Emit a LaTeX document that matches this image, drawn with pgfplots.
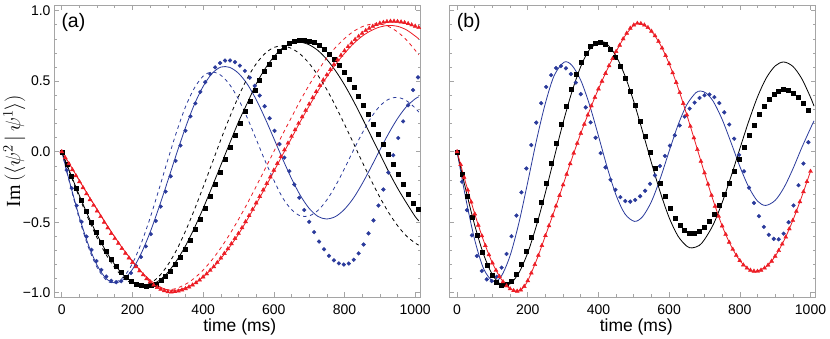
\documentclass[border=0pt]{standalone}
\usepackage{pgfplots}
\pgfplotsset{compat=1.18}
\usepackage{fontspec}
\setmainfont{Liberation Sans}
\newfontfamily\serif{Liberation Serif}

\definecolor{mblue}{RGB}{42,58,155}
\definecolor{mred}{RGB}{236,28,36}
\definecolor{framegray}{RGB}{165,165,165}

\pgfplotsset{
  panel/.style={
    scale only axis, width=366.5pt, height=292pt,
    xmin=-22, xmax=1015, ymin=-1.03, ymax=1.04,
    xtick={0,200,400,600,800,1000}, xticklabels={0,200,400,600,800,1000},
    minor x tick num=3,
    ytick={-1,-0.5,0,0.5,1}, minor y tick num=4,
    tick align=inside,
    major tick length=5pt, minor tick length=2.8pt,
    axis line style={framegray, line width=0.9pt},
    every tick/.append style={framegray, line width=0.6pt},
    tick label style={font=\fontsize{14}{16}\selectfont},
    xticklabel style={yshift=-4pt},
    xlabel={time (ms)},
    xlabel style={font=\fontsize{17.5}{20}\selectfont},
  },
  dots/.style={only marks, mark=*, mblue, mark size=1.9pt},
  sqs/.style={only marks, mark=square*, black, mark size=2pt},
  tris/.style={only marks, mark=triangle*, mred, mark size=2.3pt},
  ln/.style={line width=0.8pt, smooth, no markers},
  dsh/.style={line width=0.8pt, smooth, no markers, dash pattern=on 3.5pt off 3.5pt},
}

\begin{document}
\begin{tikzpicture}
\useasboundingbox (0,0) rectangle (830pt,339pt);

% ---------- panel (a)
\begin{axis}[panel, at={(54pt,42pt)}, anchor=south west,
  yticklabels={−1.0,−0.5,0.0,0.5,1.0},
  xlabel style={at={(axis description cs:0.507,-0.103)}, anchor=center},
  ylabel={{\serif Im}\,$\bigl(\langle\psi^{2}\,|\,\psi^{1}\rangle\bigr)$},
  ylabel style={font=\fontsize{20}{22}\selectfont, at={(axis description cs:-0.108,0.5)}, anchor=center, inner sep=0pt},
]
\addplot[dots] coordinates {
(0,0) (14,-0.131) (28,-0.259) (42,-0.382) (56,-0.497) (70,-0.602) (84,-0.696) (98,-0.775) (112,-0.838) (126,-0.885) (140,-0.915) (154,-0.925) (168,-0.918) (182,-0.897) (196,-0.860) (210,-0.809) (224,-0.746) (238,-0.671) (252,-0.584) (266,-0.491) (280,-0.389) (294,-0.283) (308,-0.174) (322,-0.065) (336,0.044) (350,0.149) (364,0.251) (378,0.343) (392,0.424) (406,0.493) (420,0.551) (434,0.598) (448,0.629) (462,0.646) (476,0.647) (490,0.635) (504,0.610) (518,0.573) (532,0.525) (546,0.467) (560,0.398) (574,0.322) (588,0.237) (602,0.148) (616,0.054) (630,-0.042) (644,-0.138) (658,-0.233) (672,-0.326) (686,-0.413) (700,-0.497) (714,-0.570) (728,-0.637) (742,-0.692) (756,-0.738) (770,-0.770) (784,-0.792) (798,-0.800) (812,-0.793) (826,-0.766) (840,-0.721) (854,-0.658) (868,-0.579) (882,-0.487) (896,-0.382) (910,-0.268) (924,-0.148) (938,-0.025) (952,0.097) (966,0.215) (980,0.329) (994,0.437) (1008,0.527)
};
\addplot[sqs] coordinates {
(0,0) (14,-0.088) (28,-0.175) (42,-0.261) (56,-0.344) (70,-0.425) (84,-0.502) (98,-0.574) (112,-0.642) (126,-0.704) (140,-0.761) (154,-0.810) (168,-0.853) (182,-0.889) (196,-0.917) (210,-0.937) (224,-0.949) (238,-0.953) (252,-0.949) (266,-0.936) (280,-0.914) (294,-0.884) (308,-0.846) (322,-0.801) (336,-0.748) (350,-0.688) (364,-0.624) (378,-0.552) (392,-0.476) (406,-0.397) (420,-0.314) (434,-0.228) (448,-0.142) (462,-0.055) (476,0.032) (490,0.119) (504,0.203) (518,0.284) (532,0.357) (546,0.434) (560,0.505) (574,0.570) (588,0.620) (602,0.670) (616,0.709) (630,0.743) (644,0.769) (658,0.785) (672,0.793) (686,0.793) (700,0.786) (714,0.773) (728,0.753) (742,0.727) (756,0.694) (770,0.657) (784,0.614) (798,0.565) (812,0.512) (826,0.456) (840,0.395) (854,0.331) (868,0.264) (882,0.196) (896,0.125) (910,0.054) (924,-0.017) (938,-0.089) (952,-0.160) (966,-0.231) (980,-0.298) (994,-0.363) (1008,-0.41)
};
\addplot[tris] coordinates {
(0,0) (10,-0.043) (20,-0.085) (30,-0.128) (40,-0.17) (50,-0.213) (60,-0.255) (70,-0.298) (80,-0.34) (90,-0.38) (100,-0.42) (110,-0.46) (120,-0.50) (130,-0.54) (140,-0.58) (150,-0.616) (160,-0.65) (170,-0.686) (180,-0.72) (190,-0.753) (200,-0.785) (210,-0.816) (220,-0.845) (230,-0.873) (240,-0.90) (250,-0.923) (260,-0.945) (270,-0.962) (280,-0.975) (290,-0.986) (300,-0.993) (310,-0.995) (320,-0.992) (330,-0.988) (340,-0.980) (350,-0.971) (360,-0.959) (370,-0.945) (380,-0.929) (390,-0.910) (400,-0.888) (410,-0.866) (420,-0.841) (430,-0.815) (440,-0.786) (450,-0.754) (460,-0.721) (470,-0.688) (480,-0.652) (490,-0.615) (500,-0.579) (510,-0.539) (520,-0.496) (530,-0.453) (540,-0.408) (550,-0.363) (560,-0.317) (570,-0.271) (580,-0.225) (590,-0.179) (600,-0.131) (610,-0.083) (620,-0.035) (630,0.013) (640,0.061) (650,0.109) (660,0.155) (670,0.201) (680,0.247) (690,0.293) (700,0.338) (710,0.383) (720,0.426) (730,0.469) (740,0.509) (750,0.545) (760,0.582) (770,0.618) (780,0.651) (790,0.684) (800,0.716) (810,0.745) (820,0.771) (830,0.796) (840,0.818) (850,0.840) (860,0.859) (870,0.875) (880,0.889) (890,0.901) (900,0.911) (910,0.917) (920,0.922) (930,0.925) (940,0.925) (950,0.923) (960,0.920) (970,0.915) (980,0.908) (990,0.899) (1000,0.89) (1010,0.88)
};
% fits
\addplot[ln, mblue] coordinates {
(0,0) (25,-0.241) (50,-0.465) (75,-0.658) (100,-0.805) (125,-0.898) (150,-0.93) (175,-0.905) (200,-0.834) (225,-0.720) (250,-0.571) (275,-0.395) (300,-0.206) (325,-0.013) (350,0.171) (375,0.334) (400,0.463) (425,0.554) (450,0.600) (475,0.598) (500,0.556) (525,0.479) (550,0.370) (575,0.238) (600,0.094) (625,-0.052) (650,-0.190) (675,-0.310) (700,-0.402) (725,-0.459) (749,-0.477) (775,-0.459) (800,-0.408) (825,-0.330) (850,-0.227) (875,-0.110) (900,0.012) (925,0.130) (950,0.235) (975,0.319) (1000,0.375) (1010,0.389)
};
\addplot[dsh, mblue] coordinates {
(0,0) (25,-0.249) (50,-0.480) (75,-0.675) (100,-0.821) (125,-0.908) (145,-0.93) (175,-0.888) (200,-0.792) (225,-0.648) (250,-0.469) (275,-0.267) (300,-0.058) (325,0.142) (350,0.318) (375,0.450) (400,0.536) (425,0.565) (450,0.542) (475,0.476) (500,0.372) (525,0.239) (550,0.089) (575,-0.063) (600,-0.202) (625,-0.327) (650,-0.410) (675,-0.455) (700,-0.455) (725,-0.416) (750,-0.342) (775,-0.240) (800,-0.119) (825,0.009) (850,0.131) (875,0.241) (900,0.324) (925,0.372) (950,0.385) (975,0.362) (1000,0.310) (1010,0.281)
};
\addplot[ln, black] coordinates {
(0,0) (25,-0.158) (50,-0.312) (75,-0.457) (100,-0.589) (125,-0.705) (150,-0.801) (175,-0.875) (200,-0.924) (225,-0.948) (250,-0.945) (275,-0.914) (300,-0.856) (325,-0.772) (350,-0.668) (375,-0.542) (400,-0.402) (425,-0.251) (450,-0.096) (475,0.059) (500,0.211) (525,0.345) (550,0.480) (575,0.587) (600,0.673) (625,0.735) (650,0.769) (675,0.776) (700,0.758) (725,0.717) (750,0.654) (775,0.572) (800,0.474) (825,0.361) (850,0.239) (875,0.112) (900,-0.015) (925,-0.142) (950,-0.258) (975,-0.362) (1000,-0.46) (1010,-0.49)
};
\addplot[dsh, black] coordinates {
(0,0) (25,-0.165) (50,-0.325) (75,-0.475) (100,-0.611) (125,-0.728) (150,-0.823) (175,-0.893) (200,-0.936) (225,-0.95) (250,-0.933) (275,-0.884) (300,-0.803) (325,-0.696) (350,-0.563) (375,-0.413) (400,-0.251) (425,-0.084) (450,0.085) (475,0.244) (500,0.391) (525,0.521) (550,0.623) (575,0.696) (600,0.739) (625,0.750) (650,0.732) (675,0.691) (700,0.626) (725,0.540) (750,0.440) (775,0.322) (800,0.194) (825,0.062) (850,-0.072) (875,-0.201) (900,-0.323) (925,-0.432) (950,-0.524) (975,-0.597) (1000,-0.648) (1010,-0.662)
};
\addplot[ln, mred] coordinates {
(0,0) (25,-0.10) (50,-0.205) (75,-0.31) (100,-0.41) (125,-0.51) (150,-0.605) (175,-0.695) (200,-0.775) (225,-0.85) (250,-0.91) (275,-0.955) (300,-0.98) (325,-0.982) (350,-0.966) (375,-0.935) (400,-0.888) (425,-0.829) (450,-0.758) (475,-0.676) (500,-0.585) (525,-0.481) (550,-0.371) (575,-0.258) (600,-0.140) (625,-0.021) (650,0.096) (675,0.214) (700,0.324) (725,0.431) (750,0.531) (775,0.620) (800,0.697) (825,0.765) (850,0.819) (875,0.858) (900,0.884) (925,0.895) (950,0.889) (975,0.864) (1000,0.820) (1010,0.80)
};
\addplot[dsh, mred] coordinates {
(0,0) (25,-0.10) (50,-0.205) (75,-0.31) (100,-0.41) (125,-0.51) (150,-0.605) (175,-0.695) (200,-0.78) (225,-0.855) (250,-0.925) (275,-0.965) (300,-0.98) (325,-0.968) (350,-0.940) (375,-0.897) (400,-0.839) (425,-0.767) (450,-0.682) (475,-0.586) (500,-0.480) (525,-0.367) (550,-0.246) (575,-0.123) (600,0.001) (625,0.124) (650,0.244) (675,0.363) (700,0.473) (725,0.573) (750,0.666) (775,0.740) (800,0.802) (825,0.852) (850,0.886) (875,0.904) (900,0.905) (925,0.887) (950,0.849) (975,0.793) (1000,0.719) (1010,0.686)
};
\node[font=\fontsize{19.5}{22}\selectfont] at (axis description cs:0.053,0.94) {(a)};
\end{axis}

% ---------- panel (b)
\begin{axis}[panel, at={(449.3pt,42pt)}, anchor=south west,
  yticklabels={},
  xlabel style={at={(axis description cs:0.51,-0.103)}, anchor=center},
]
\addplot[dots] coordinates {
(0,0) (14,-0.213) (28,-0.414) (42,-0.593) (56,-0.739) (70,-0.845) (84,-0.905) (98,-0.917) (112,-0.887) (126,-0.822) (140,-0.725) (154,-0.599) (168,-0.453) (182,-0.288) (196,-0.119) (210,0.047) (224,0.206) (238,0.344) (252,0.459) (266,0.543) (280,0.593) (294,0.607) (308,0.591) (322,0.551) (336,0.490) (350,0.408) (364,0.314) (378,0.208) (392,0.099) (406,-0.010) (420,-0.111) (434,-0.199) (448,-0.270) (462,-0.322) (476,-0.350) (490,-0.354) (504,-0.342) (518,-0.316) (532,-0.277) (546,-0.228) (560,-0.168) (574,-0.102) (588,-0.030) (602,0.043) (616,0.116) (630,0.186) (644,0.249) (658,0.305) (672,0.348) (686,0.381) (700,0.400) (714,0.405) (728,0.387) (742,0.345) (756,0.279) (770,0.193) (784,0.092) (798,-0.022) (812,-0.139) (826,-0.255) (840,-0.363) (854,-0.457) (868,-0.533) (882,-0.589) (896,-0.618) (910,-0.621) (924,-0.581) (938,-0.500) (952,-0.381) (966,-0.238) (980,-0.084) (994,0.067)
};
\addplot[sqs] coordinates {
(0,0) (14,-0.160) (28,-0.315) (42,-0.461) (56,-0.594) (70,-0.710) (84,-0.805) (98,-0.878) (112,-0.926) (126,-0.947) (140,-0.942) (154,-0.915) (168,-0.866) (182,-0.796) (196,-0.706) (210,-0.604) (224,-0.487) (238,-0.356) (252,-0.220) (266,-0.081) (280,0.058) (294,0.195) (308,0.325) (322,0.444) (336,0.546) (350,0.632) (364,0.700) (378,0.746) (392,0.772) (406,0.776) (420,0.760) (434,0.725) (448,0.673) (462,0.606) (476,0.524) (490,0.431) (504,0.328) (518,0.219) (532,0.107) (546,-0.006) (560,-0.117) (574,-0.220) (588,-0.318) (602,-0.401) (616,-0.469) (630,-0.523) (644,-0.560) (658,-0.579) (672,-0.579) (686,-0.565) (700,-0.536) (714,-0.493) (728,-0.440) (742,-0.376) (756,-0.302) (770,-0.222) (784,-0.138) (798,-0.052) (812,0.033) (826,0.116) (840,0.190) (854,0.264) (868,0.325) (882,0.373) (896,0.409) (910,0.432) (924,0.44) (938,0.434) (952,0.416) (966,0.385) (980,0.344) (994,0.292)
};
\addplot[tris] coordinates {
(0,0) (10,-0.091) (20,-0.182) (30,-0.271) (40,-0.357) (50,-0.441) (60,-0.521) (70,-0.596) (80,-0.666) (90,-0.731) (100,-0.789) (110,-0.841) (120,-0.885) (130,-0.922) (140,-0.951) (150,-0.972) (160,-0.985) (170,-0.989) (180,-0.98) (190,-0.955) (200,-0.915) (210,-0.86) (220,-0.80) (230,-0.735) (240,-0.665) (250,-0.595) (260,-0.525) (270,-0.455) (280,-0.385) (290,-0.31) (300,-0.235) (310,-0.16) (320,-0.085) (330,-0.01) (340,0.06) (350,0.13) (360,0.195) (370,0.26) (380,0.325) (390,0.385) (400,0.445) (410,0.50) (420,0.555) (430,0.61) (440,0.66) (450,0.71) (460,0.755) (470,0.80) (480,0.84) (490,0.875) (500,0.898) (510,0.91) (520,0.908) (530,0.898) (540,0.880) (550,0.854) (560,0.822) (570,0.782) (580,0.735) (590,0.682) (600,0.624) (610,0.559) (620,0.491) (630,0.419) (640,0.342) (650,0.261) (660,0.180) (670,0.098) (680,0.015) (690,-0.068) (700,-0.150) (710,-0.230) (720,-0.309) (730,-0.386) (740,-0.458) (750,-0.526) (760,-0.586) (770,-0.642) (780,-0.692) (790,-0.735) (800,-0.772) (810,-0.803) (820,-0.825) (830,-0.840) (840,-0.847) (850,-0.848) (860,-0.840) (870,-0.825) (880,-0.804) (890,-0.776) (900,-0.741) (910,-0.701) (920,-0.655) (930,-0.605) (940,-0.547) (950,-0.487) (960,-0.423) (970,-0.355) (980,-0.284) (990,-0.212) (1000,-0.139)
};
\addplot[ln, mblue] coordinates {
(0,0) (25,-0.336) (50,-0.626) (75,-0.829) (102,-0.919) (125,-0.883) (150,-0.737) (175,-0.504) (200,-0.215) (225,0.084) (250,0.345) (275,0.541) (303,0.635) (325,0.612) (350,0.506) (375,0.330) (400,0.112) (425,-0.113) (450,-0.309) (475,-0.441) (502,-0.494) (525,-0.460) (550,-0.353) (575,-0.189) (600,0.003) (625,0.188) (650,0.333) (675,0.417) (689,0.43) (705,0.415) (725,0.356) (750,0.229) (775,0.066) (800,-0.104) (825,-0.250) (850,-0.350) (873,-0.381) (900,-0.345) (925,-0.254) (950,-0.123) (975,0.027) (1000,0.166) (1010,0.219)
};
\addplot[ln, black] coordinates {
(0,0) (25,-0.273) (50,-0.522) (75,-0.728) (100,-0.872) (125,-0.943) (150,-0.937) (175,-0.858) (200,-0.716) (225,-0.520) (250,-0.289) (275,-0.040) (300,0.206) (325,0.425) (350,0.604) (375,0.725) (406,0.78) (425,0.761) (450,0.678) (475,0.538) (500,0.355) (525,0.142) (550,-0.079) (575,-0.288) (600,-0.467) (625,-0.598) (650,-0.670) (665,-0.682) (685,-0.665) (700,-0.623) (725,-0.516) (750,-0.361) (775,-0.177) (800,0.021) (825,0.214) (850,0.388) (875,0.523) (900,0.608) (924,0.636) (950,0.605) (975,0.519) (1000,0.386) (1010,0.323)
};
\addplot[ln, mred] coordinates {
(0,0) (25,-0.226) (50,-0.441) (75,-0.631) (100,-0.789) (125,-0.904) (150,-0.972) (170,-0.989) (185,-0.97) (200,-0.915) (225,-0.768) (250,-0.595) (275,-0.42) (300,-0.235) (325,-0.048) (350,0.13) (375,0.293) (400,0.445) (425,0.583) (450,0.71) (475,0.82) (500,0.898) (512,0.911) (525,0.903) (550,0.854) (575,0.759) (600,0.624) (625,0.455) (650,0.261) (675,0.057) (700,-0.150) (725,-0.348) (750,-0.526) (775,-0.667) (800,-0.772) (825,-0.833) (844,-0.848) (875,-0.815) (900,-0.741) (925,-0.630) (950,-0.487) (975,-0.320) (1000,-0.139)
};
\node[font=\fontsize{19.5}{22}\selectfont] at (axis description cs:0.053,0.94) {(b)};
\end{axis}
\end{tikzpicture}
\end{document}
